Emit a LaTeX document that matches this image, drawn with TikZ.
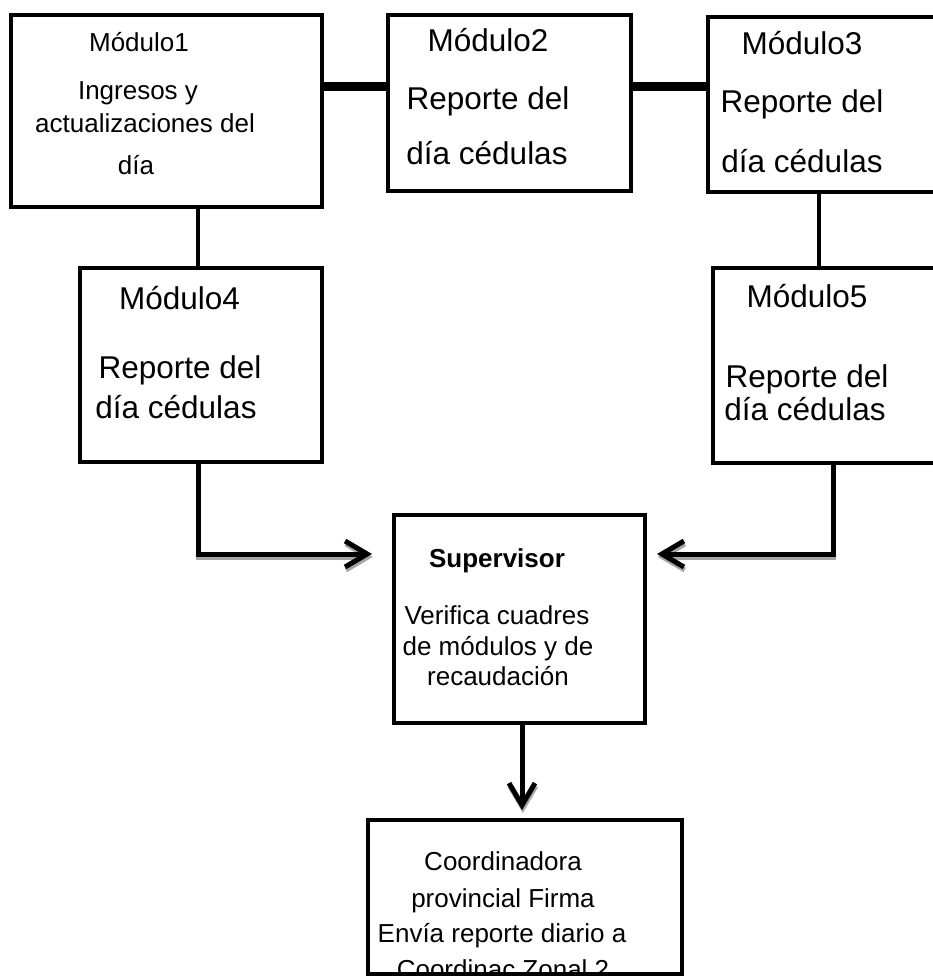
\documentclass[tikz,border=0pt]{standalone}
\usepackage{fontspec}
\setmainfont{Liberation Sans}
\usetikzlibrary{arrows.meta}
\tikzset{
	modbox/.style={draw, line width=4pt, inner sep=0pt},
	smalltxt/.style={font=\fontsize{26}{30}\selectfont, anchor=base, inner sep=0pt},
	bigtxt/.style={font=\fontsize{31.5}{36}\selectfont, anchor=base, inner sep=0pt},
	bar/.style={line width=9pt},
	link/.style={line width=4.5pt},
	flow/.style={line width=5pt, line join=miter, -{Straight Barb[length=22pt,width=26pt]},
		preaction={draw=black!35, line width=5pt, line join=miter,
			-{Straight Barb[length=22pt,width=26pt]},
			transform canvas={xshift=0.8pt,yshift=-3pt}}},
}

\begin{document}
\begin{tikzpicture}[x=1pt,y=-1pt]
		%%%%% START %%%%%
		
		\useasboundingbox (0,0) rectangle (933,976);
		\fill[white] (0,0) rectangle (933,976);
		\clip (0,0) rectangle (933,976);
		
		\node[modbox, minimum width=311pt, minimum height=192pt] (m1) at (166.5,111) {};
		\node[modbox, minimum width=243pt, minimum height=176pt] (m2) at (509.5,103) {};
		\node[modbox, minimum width=242pt, minimum height=175pt] (m3) at (829,104.5) {};
		\node[modbox, minimum width=242pt, minimum height=194pt] (m4) at (201,365) {};
		\node[modbox, minimum width=237pt, minimum height=195pt] (m5) at (831.5,365.5) {};
		\node[modbox, minimum width=251pt, minimum height=208pt] (sup) at (519.5,619) {};
		\node[modbox, minimum width=314pt, minimum height=154pt] (coord) at (525,897) {};
		
		% top row
		\draw[bar] ([yshift=-74pt]m1.north east) -- ([yshift=-74pt]m2.north west);
		\draw[bar] ([yshift=-74pt]m2.north east) -- ([yshift=-72pt]m3.north west);
		
		\coordinate (m4in) at ([xshift=-3pt]m4.north);
		\draw[link] (m4in) -- (m4in |- m1.south);
		\coordinate (m3out) at ([xshift=-10pt]m3.south);
		\draw[link] (m3out) -- (m3out |- m5.north);
		
		% arrows to supervisor
		\coordinate (m4out) at ([xshift=-3pt]m4.south);
		\coordinate (supleft) at ([xshift=-20pt,yshift=-41pt]sup.north west);
		\draw[flow] (m4out) |- (supleft);
		\coordinate (m5out) at ([xshift=1.5pt]m5.south);
		\coordinate (supright) at ([xshift=10pt,yshift=-41pt]sup.north east);
		\draw[flow] (m5out) |- (supright);
		
		\coordinate (coordin) at ([xshift=-3pt,yshift=8pt]coord.north);
		\draw[flow] (coordin |- sup.south) -- (coordin);
		
		% texts
		\node[smalltxt] (m1a) at (139,52) {Módulo1};
		\node[smalltxt] (m1b) at (138,100) {Ingresos y};
		\node[smalltxt] (m1c) at (145,133) {actualizaciones del};
		\node[smalltxt] (m1d) at (136,175) {día};
		
		\node[bigtxt] (m2a) at (488,52) {Módulo2};
		\node[bigtxt] (m2b) at (488,110) {Reporte del};
		\node[bigtxt] (m2c) at (487,165) {día cédulas};
		
		\node[bigtxt] (m3a) at (802,55) {Módulo3};
		\node[bigtxt] (m3b) at (802,113) {Reporte del};
		\node[bigtxt] (m3c) at (802,173) {día cédulas};
		
		\node[bigtxt] (m4a) at (179.5,309) {Módulo4};
		\node[bigtxt] (m4b) at (180,378) {Reporte del};
		\node[bigtxt] (m4c) at (176,418) {día cédulas};
		
		\node[bigtxt] (m5a) at (807,307) {Módulo5};
		\node[bigtxt] (m5b) at (807,387) {Reporte del};
		\node[bigtxt] (m5c) at (805,420) {día cédulas};
		
		\node[smalltxt, font=\fontsize{26}{30}\selectfont\bfseries] (supa) at (497,567) {Supervisor};
		\node[smalltxt] (supb) at (497,624) {Verifica cuadres};
		\node[smalltxt] (supc) at (498,655) {de módulos y de};
		\node[smalltxt] (supd) at (498,685) {recaudación};
		
		\node[smalltxt] (coa) at (503,870) {Coordinadora};
		\node[smalltxt] (cob) at (503,907) {provincial Firma};
		\node[smalltxt] (coc) at (502,942) {Envía reporte diario a};
		\node[smalltxt] (cod) at (503,978) {Coordinac Zonal 2};
		
		%%%%% END %%%%%
	\end{tikzpicture}
\end{document}
